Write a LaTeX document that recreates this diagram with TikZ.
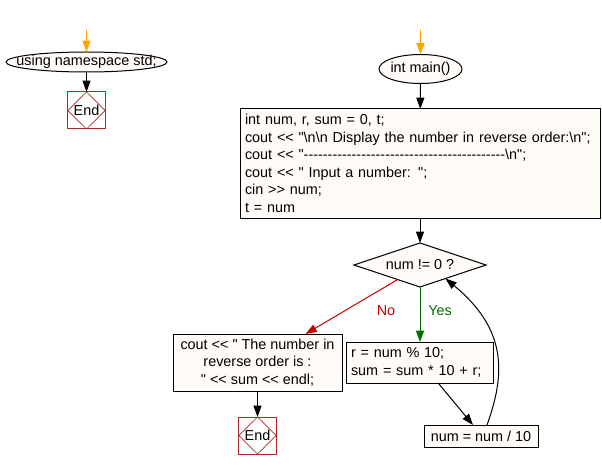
\documentclass[tikz,border=0pt]{standalone}
\usepackage{fontspec}
\newfontfamily\cf{Liberation Sans}
\usetikzlibrary{shapes.geometric,arrows.meta,calc}
\definecolor{boxfill}{RGB}{255,252,247}
\definecolor{endred}{RGB}{170,40,40}
\definecolor{noRed}{RGB}{204,0,0}
\definecolor{yesGreen}{RGB}{0,110,0}
\definecolor{startOrange}{RGB}{255,165,0}
\begin{document}
\begin{tikzpicture}[x=0.75pt,y=-0.75pt,
  font=\cf\fontsize{10.8}{13.1}\selectfont,
  every node/.style={inner sep=0pt, outer sep=0pt},
  term/.style={ellipse, draw, fill=boxfill, line width=0.75pt},
  proc/.style={rectangle, draw, fill=boxfill, line width=0.75pt},
  endbox/.style={rectangle, draw=endred, fill=white, minimum width=28pt, minimum height=27.75pt, line width=0.75pt,
    path picture={\draw[endred,line width=0.5pt] (path picture bounding box.north) -- (path picture bounding box.east) -- (path picture bounding box.south) -- (path picture bounding box.west) -- cycle;}},
  dec/.style={diamond, draw, fill=boxfill, shape aspect=3, minimum width=99pt, minimum height=33pt, line width=0.75pt},
  flow/.style={line width=0.75pt, -{Triangle[length=8.5pt,width=6pt]}},
]
\useasboundingbox (0,0) rectangle (602,470);
\coordinate (s1) at (86.5,30);
\coordinate (s2) at (420.5,30);
\node[term, minimum width=120.75pt, minimum height=15pt] (ns) at (86.5,62) {\makebox[0pt]{using namespace std;}};
\node[endbox] (e1) at (86.5,110.5) {End};
\node[term, minimum width=62.25pt, minimum height=21.75pt] (main) at (420.5,69) {\makebox[0pt]{int main()}};
\node[proc, text width=262.5pt, inner xsep=3.75pt, align=left, minimum height=81.75pt] (b1) at (420,163.5)
 {int num, r, sum = 0, t;\\
  cout << "\textbackslash{}n\textbackslash{}n Display the number in reverse order:\textbackslash{}n";\\
  cout << "------------------------------------------\textbackslash{}n";\\
  cout << " Input a number: ";\\
  cin >> num;\\
  t = num};
\node[dec] (d) at (420,265) {num != 0 ?};
\node[proc, minimum width=126.75pt, minimum height=42.75pt, align=center] (out) at (257.5,362.5)
 {cout << " The number in\\ reverse order is :\\ " << sum << endl;};
\node[endbox] (e2) at (257.5,435.5) {End};
\node[proc, text width=102.75pt, inner xsep=3.75pt, align=left, minimum height=30.75pt] (r) at (419.5,362.5)
 {r = num \% 10;\\ sum = sum * 10 + r;};
\node[proc, minimum width=85.5pt, minimum height=16.5pt] (nb) at (481,436) {num = num / 10};
\node[text=noRed] (no) at (386,311) {No};
\node[text=yesGreen] (yes) at (440,311) {Yes};
\draw[flow, startOrange] (s1) -- (ns);
\draw[flow] (ns) -- (e1);
\draw[flow, startOrange] (s2) -- (main);
\draw[flow] (main) -- (b1);
\draw[flow] (b1) -- (d);
\draw[flow, yesGreen] (d.south) -- (d.south |- r.north);
\draw[flow, noRed] (d.213) -- ($(out.north)+(36pt,0)$);
\draw[flow] (out) -- (e2);
\draw[flow] ($(r.south)+(14pt,0)$) -- ($(nb.north)+(-6pt,0)$);
\draw[flow] ($(nb.north)+(4.5pt,0)$) .. controls (505,375) and (508,330) .. (d.-28);
\end{tikzpicture}
\end{document}
